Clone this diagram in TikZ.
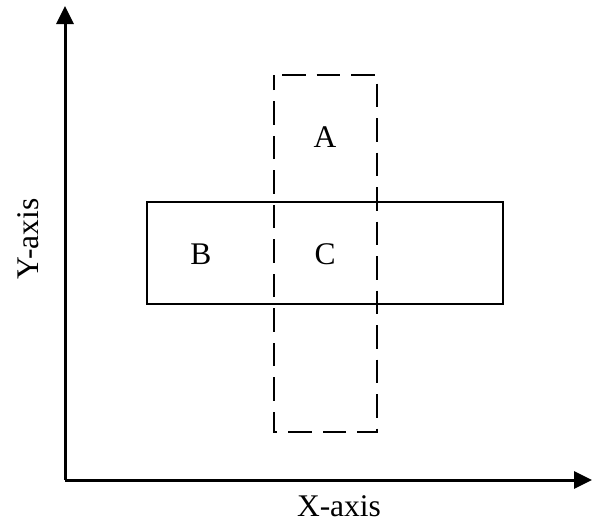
\documentclass[tikz,border=0pt]{standalone}
\usepackage{fontspec}
\setmainfont{Liberation Serif}
\usetikzlibrary{arrows.meta}
\begin{document}
\begin{tikzpicture}[x=1pt,y=-1pt,
  axis/.style={line width=3pt,-{Triangle[length=18pt,width=17pt]}},
  region/.style={draw,line width=2.7pt,inner sep=0pt},
  dashregion/.style={line width=2.7pt,dash pattern=on 23.5pt off 11pt,dash phase=26.5pt},
  lbl/.style={font=\fontsize{31.5}{31.5}\selectfont,inner sep=0pt}]
  \useasboundingbox (0,0) rectangle (593,523);
  % axes
  \coordinate (origin) at (65,480);
  \coordinate (ytip) at (65,6);
  \coordinate (xtip) at (592,480);
  \draw[axis] (origin) -- (ytip);
  \draw[axis] (origin) -- (xtip);
  \draw[line width=3pt] (origin) -- ++(1.5,0);
  % solid horizontal region
  \node[region,minimum width=356pt,minimum height=102pt] (horiz) at (325,253) {};
  % dashed vertical region, traced clockwise from its top-left corner
  \coordinate (vtl) at (274,75);
  \coordinate (vtr) at (377,75);
  \coordinate (vbr) at (377,432);
  \coordinate (vbl) at (274,432);
  \draw[dashregion] (vtl) -- (vtr) -- (vbr) -- (vbl) -- cycle;
  % labels
  \node[lbl] (A) at (325,137) {A};
  \node[lbl] (B) at (201,254) {B};
  \node[lbl] (C) at (325,254) {C};
  \node[lbl] (xlabel) at (339,506) {X-axis};
  \node[lbl,rotate=90] (ylabel) at (28,239) {Y-axis};
\end{tikzpicture}
\end{document}
